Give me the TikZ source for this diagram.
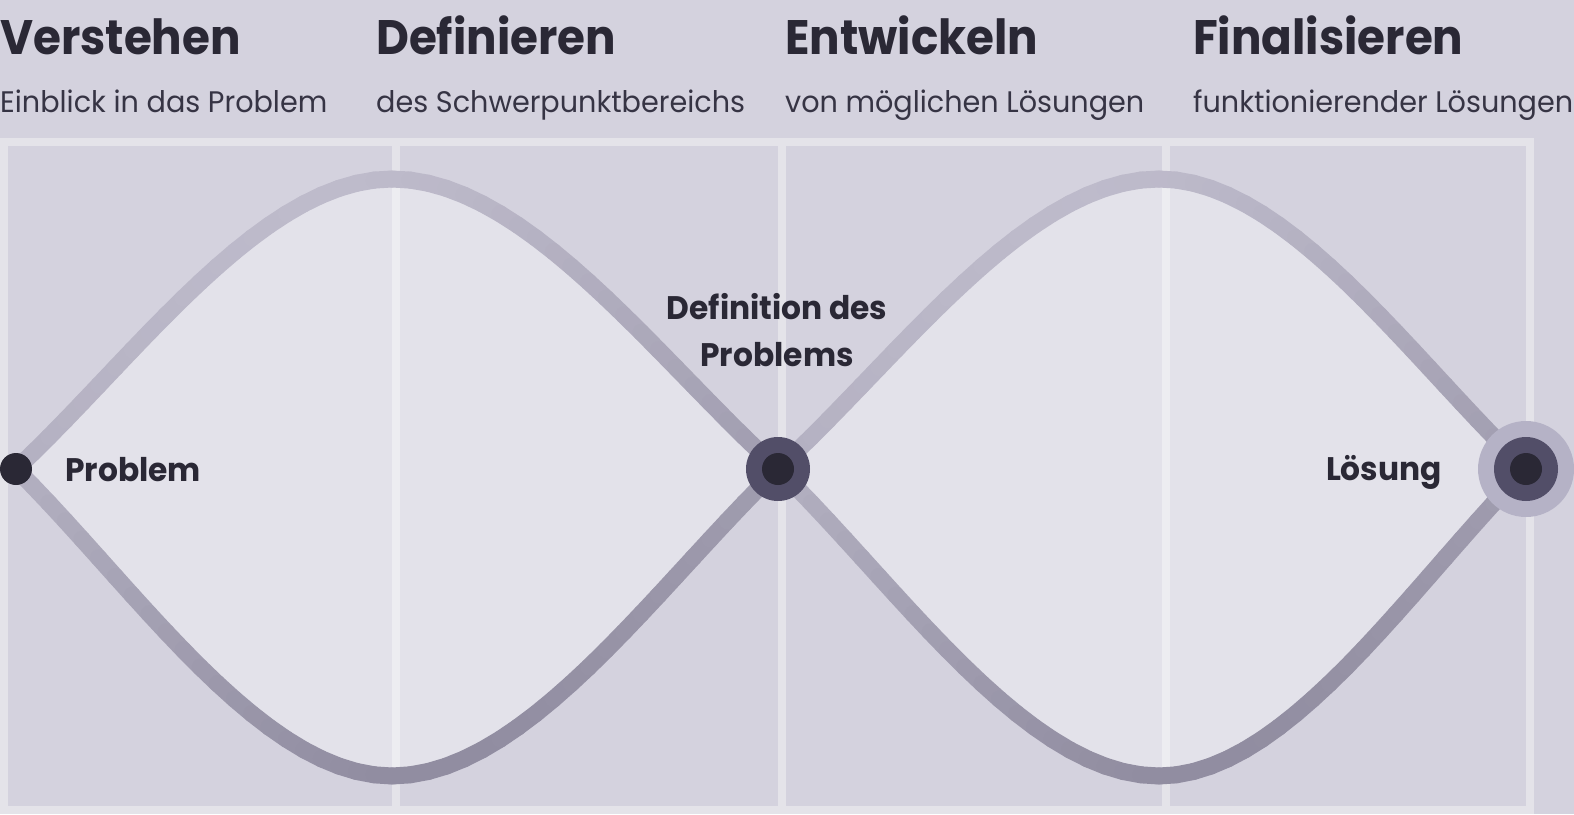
\documentclass[tikz,border=0pt]{standalone}
\usepackage{fontspec}
\setmainfont{Poppins}
\newfontfamily\headfont{Poppins}[FakeStretch=0.935]
\newfontfamily\subfont{Poppins}[FakeStretch=0.965]
\newfontfamily\lblfont{Poppins}[FakeStretch=0.96]
\definecolor{bgc}{HTML}{D4D2DE}
\definecolor{framec}{HTML}{E4E3E9}
\definecolor{colc}{HTML}{D4D2DE}
\definecolor{ink}{HTML}{2A2835}
\definecolor{subink}{HTML}{363444}
\definecolor{ringc}{HTML}{524E68}
\definecolor{haloc}{HTML}{B5B2C6}
\definecolor{strokelight}{HTML}{BEBBCB}
\definecolor{strokedark}{HTML}{918DA1}
\def\nseg{22}
\def\lcx{392}
\def\lhw{381}
\newcommand\gradcurve[8]{%
  \foreach \i in {1,...,\nseg}{%
    \pgfmathsetmacro\ta{(\i-1)/\nseg}%
    \pgfmathsetmacro\tb{\i/\nseg}%
    \pgfmathsetmacro\sa{1-\ta}%
    \pgfmathsetmacro\sb{1-\tb}%
    \pgfmathsetmacro\xa{\sa*\sa*\sa*#1+3*\sa*\sa*\ta*#3+3*\sa*\ta*\ta*#5+\ta*\ta*\ta*#7}%
    \pgfmathsetmacro\ya{\sa*\sa*\sa*#2+3*\sa*\sa*\ta*#4+3*\sa*\ta*\ta*#6+\ta*\ta*\ta*#8}%
    \pgfmathsetmacro\xb{\sb*\sb*\sb*#1+3*\sb*\sb*\tb*#3+3*\sb*\tb*\tb*#5+\tb*\tb*\tb*#7}%
    \pgfmathsetmacro\yb{\sb*\sb*\sb*#2+3*\sb*\sb*\tb*#4+3*\sb*\tb*\tb*#6+\tb*\tb*\tb*#8}%
    \pgfmathsetmacro\uu{((\xa+\xb)/2-\lcx)/\lhw}%
    \pgfmathsetmacro\vv{(\ya+\yb)/2-469}%
    \pgfmathsetmacro\cc{170-9*\uu-ifthenelse(\vv<0,18*\vv/290,24*\vv/307)}%
    \pgfmathsetmacro\pp{max(0,min(100,(\cc-146)/43*100))}%
    \draw[curvestroke, color=strokelight!\pp!strokedark] (\xa,\ya) -- (\xb,\yb);
  }}
\begin{document}
\begin{tikzpicture}[x=1pt,y=-1pt,
  head/.style={font=\headfont\fontsize{48.4}{58}\selectfont\bfseries, text=ink, inner sep=0pt, anchor=base west},
  subt/.style={font=\subfont\fontsize{29.7}{36}\selectfont, text=subink, inner sep=0pt, anchor=base west},
  lbl/.style={font=\lblfont\fontsize{32.6}{40}\selectfont\bfseries, text=ink, inner sep=0pt},
  curvestroke/.style={line width=17pt, line cap=round},
  lobefill/.style={fill=white, fill opacity=0.37},
  dotc/.style={circle, fill=ink, minimum size=32pt, inner sep=0pt},
  ringn/.style={circle, fill=ringc, minimum size=64pt, inner sep=0pt},
  halon/.style={circle, fill=haloc, minimum size=96pt, inner sep=0pt}]
\path[use as bounding box, fill=bgc] (0,0) rectangle (1574,814);
% frame and columns
\fill[framec] (0,138) rectangle (1534,814);
\fill[colc] (8,146) rectangle (392,806);
\fill[colc] (400,146) rectangle (778,806);
\fill[colc] (786,146) rectangle (1162,806);
\fill[colc] (1170,146) rectangle (1526,806);
% key points
\coordinate (t1) at (392,179);
\coordinate (b1) at (392,776);
\coordinate (t2) at (1159,179);
\coordinate (b2) at (1159,776);
% lobe fills
\fill[lobefill] (16,469) .. controls (136,357) and (262,179) .. (t1)
  .. controls (525,179) and (655,357) .. (778,469)
  .. controls (655,588) and (525,776) .. (b1)
  .. controls (262,776) and (136,588) .. cycle;
\fill[lobefill] (778,469) .. controls (900,357) and (1027,179) .. (t2)
  .. controls (1286,179) and (1409,357) .. (1526,469)
  .. controls (1409,588) and (1286,776) .. (b2)
  .. controls (1027,776) and (900,588) .. cycle;
% lobe strokes (colour graded)
\def\lcx{397}\def\lhw{381}
\gradcurve{16}{469}{136}{357}{262}{179}{392}{179}
\gradcurve{392}{179}{525}{179}{655}{357}{778}{469}
\gradcurve{16}{469}{136}{588}{262}{776}{392}{776}
\gradcurve{392}{776}{525}{776}{655}{588}{778}{469}
\def\lcx{1152}\def\lhw{374}
\gradcurve{778}{469}{900}{357}{1027}{179}{1159}{179}
\gradcurve{1159}{179}{1286}{179}{1409}{357}{1526}{469}
\gradcurve{778}{469}{900}{588}{1027}{776}{1159}{776}
\gradcurve{1159}{776}{1286}{776}{1409}{588}{1526}{469}
% nodes
\node[dotc] (prob) at (16,469) {};
\node[ringn] (defring) at (778,469) {};
\node[dotc] (def) at (778,469) {};
\node[halon] (loshalo) at (1526,469) {};
\node[ringn] (losring) at (1526,469) {};
\node[dotc] (los) at (1526,469) {};
% headings
\node[head] (h1) at (0,54) {Verstehen};
\node[subt] (s1) at (0,112) {Einblick in das Problem};
\node[head] (h2) at (376,54) {Definieren};
\node[subt] (s2) at (376,112) {des Schwerpunktbereichs};
\node[head] (h3) at (785,54) {Entwickeln};
\node[subt] (s3) at (785,112) {von möglichen Lösungen};
\node[head] (h4) at (1193,54) {Finalisieren};
\node[subt] (s4) at (1193,112) {funktionierender Lösungen};
% labels
\node[lbl, anchor=base west] (lprob) at (65,481) {Problem};
\node[lbl, anchor=base] (ldef1) at (777,319) {Definition des};
\node[lbl, anchor=base] (ldef2) at (777,366) {Problems};
\node[lbl, anchor=base east] (llos) at (1442,480) {Lösung};
\end{tikzpicture}
\end{document}
